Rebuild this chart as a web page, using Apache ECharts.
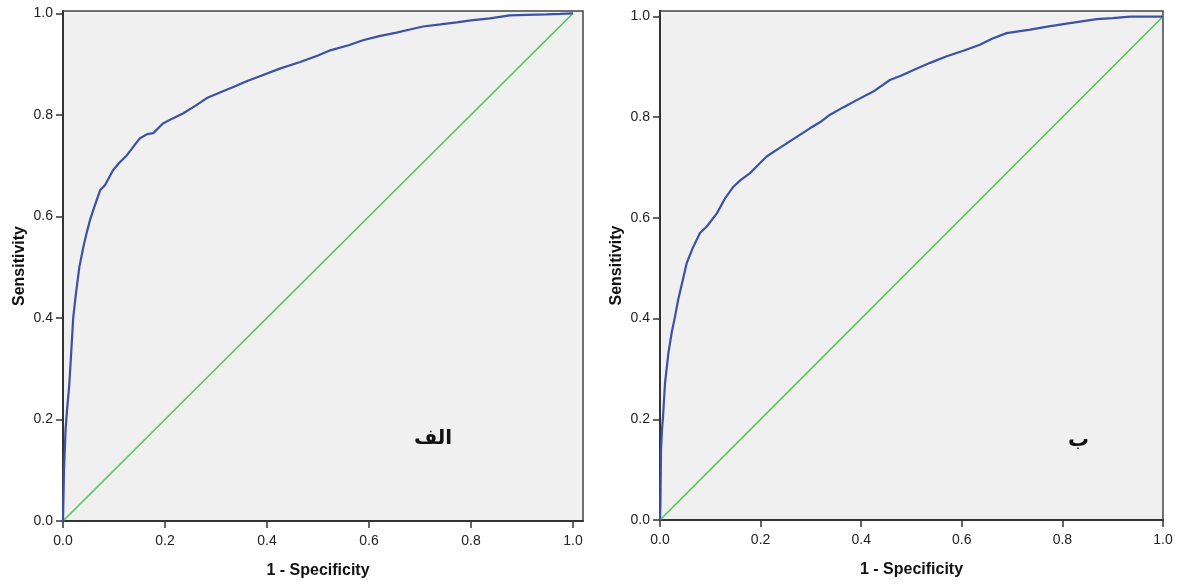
<!DOCTYPE html>
<html>
<head>
<meta charset="utf-8">
<script src="https://cdn.jsdelivr.net/npm/echarts@6/dist/echarts.min.js"></script>
<style>
  html, body { margin: 0; padding: 0; background: #fff; }
  #chart { width: 1177px; height: 588px; }
</style>
</head>
<body>
<div id="chart"></div>
<script>
// ROC curve (panel الف)
var leftFpr = [0, 0.002, 0.005, 0.008, 0.012, 0.016, 0.02, 0.025, 0.032, 0.04,
  0.047, 0.053, 0.062, 0.073, 0.082, 0.098, 0.11, 0.125, 0.14, 0.151,
  0.165, 0.177, 0.196, 0.215, 0.236, 0.26, 0.282, 0.31, 0.334, 0.36,
  0.386, 0.425, 0.465, 0.5, 0.524, 0.56, 0.588, 0.62, 0.654, 0.68,
  0.706, 0.74, 0.772, 0.8, 0.837, 0.876, 0.91, 0.948, 0.975, 1.0];
var leftTpr = [0, 0.1, 0.18, 0.22, 0.264, 0.33, 0.40, 0.445, 0.5, 0.54,
  0.57, 0.593, 0.62, 0.652, 0.661, 0.691, 0.705, 0.72, 0.74, 0.754,
  0.762, 0.764, 0.783, 0.793, 0.803, 0.818, 0.833, 0.845, 0.855, 0.866,
  0.876, 0.891, 0.904, 0.917, 0.927, 0.937, 0.947, 0.955, 0.962, 0.968,
  0.974, 0.978, 0.982, 0.986, 0.99, 0.996, 0.997, 0.998, 0.999, 1.0];

// ROC curve (panel ب)
var rightFpr = [0, 0.001, 0.002, 0.004, 0.006, 0.01, 0.0166, 0.023, 0.03, 0.036,
  0.045, 0.053, 0.065, 0.0795, 0.093, 0.113, 0.13, 0.146, 0.16, 0.179,
  0.195, 0.212, 0.235, 0.258, 0.278, 0.298, 0.318, 0.338, 0.365, 0.391,
  0.424, 0.457, 0.48, 0.504, 0.537, 0.57, 0.603, 0.636, 0.66, 0.689,
  0.736, 0.77, 0.802, 0.835, 0.868, 0.9, 0.934, 0.967, 1.0];
var rightTpr = [0, 0.04, 0.139, 0.18, 0.205, 0.272, 0.331, 0.371, 0.405, 0.437,
  0.475, 0.51, 0.54, 0.57, 0.583, 0.609, 0.64, 0.662, 0.675, 0.689,
  0.705, 0.722, 0.737, 0.752, 0.765, 0.778, 0.79, 0.805, 0.82, 0.834,
  0.851, 0.874, 0.883, 0.894, 0.908, 0.921, 0.932, 0.944, 0.956, 0.967,
  0.974, 0.98, 0.985, 0.99, 0.995, 0.997, 1.0, 1.0, 1.0];

// reference diagonal
var diagX = [0, 1];
var diagY = [0, 1];

var tickVals = [0, 0.2, 0.4, 0.6, 0.8, 1.0];
var panelLabels = ["الف", "ب"];
var xName = "1 - Specificity";
var yName = "Sensitivity";

function pairs(xs, ys) {
  return xs.map(function (x, i) { return [x, ys[i]]; });
}

var axisColor = "#333";
var labelFont = { color: "#222", fontSize: 14, fontFamily: "Liberation Sans" };
var nameFont = { color: "#111", fontSize: 16, fontWeight: "bold", fontFamily: "Liberation Sans" };

function makeX(idx, max, shift) {
  return {
    type: "value", gridIndex: idx, min: 0, max: max,
    name: xName, nameLocation: "middle", nameGap: 42,
    nameTextStyle: Object.assign({ padding: [0, shift, 0, 0] }, nameFont),
    axisLine: { show: true, onZero: false, lineStyle: { color: axisColor, width: 2 } },
    axisTick: { show: true, length: 7, customValues: tickVals, lineStyle: { color: axisColor, width: 1.5 } },
    axisLabel: Object.assign({ customValues: tickVals, margin: 13, formatter: function (v) { return v.toFixed(1); } }, labelFont),
    splitLine: { show: false }
  };
}
function makeY(idx, max) {
  return {
    type: "value", gridIndex: idx, min: 0, max: max,
    name: yName, nameLocation: "middle", nameGap: 35, nameTextStyle: nameFont,
    axisLine: { show: true, onZero: false, lineStyle: { color: axisColor, width: 2 } },
    axisTick: { show: true, length: 7, customValues: tickVals, lineStyle: { color: axisColor, width: 1.5 } },
    axisLabel: Object.assign({ customValues: tickVals, margin: 10, formatter: function (v) { return v.toFixed(1); } }, labelFont),
    splitLine: { show: false }
  };
}

var chart = echarts.init(document.getElementById("chart"));
var option = {
  backgroundColor: "#fff",
  animation: false,
  grid: [
    { left: 63, top: 11, width: 520, height: 510, show: true, backgroundColor: "#f0f0f0", borderColor: "#444", borderWidth: 1.5 },
    { left: 660, top: 11, width: 503, height: 509, show: true, backgroundColor: "#f0f0f0", borderColor: "#444", borderWidth: 1.5 }
  ],
  xAxis: [makeX(0, 1.0196, 10), makeX(1, 1, 0)],
  yAxis: [makeY(0, 1.0045), makeY(1, 1.011)],
  series: [
    { type: "line", xAxisIndex: 0, yAxisIndex: 0, data: pairs(diagX, diagY), showSymbol: false,
      lineStyle: { color: "#55c255", width: 1.6 }, silent: true },
    { type: "line", xAxisIndex: 0, yAxisIndex: 0, data: pairs(leftFpr, leftTpr), showSymbol: false,
      lineStyle: { color: "#3b51a6", width: 2.2 }, silent: true },
    { type: "line", xAxisIndex: 1, yAxisIndex: 1, data: pairs(diagX, diagY), showSymbol: false,
      lineStyle: { color: "#55c255", width: 1.6 }, silent: true },
    { type: "line", xAxisIndex: 1, yAxisIndex: 1, data: pairs(rightFpr, rightTpr), showSymbol: false,
      lineStyle: { color: "#3b51a6", width: 2.2 }, silent: true }
  ],
  graphic: [
    { type: "text", left: 414, top: 429, style: { text: panelLabels[0], fill: "#111", font: "bold 20px 'DejaVu Sans'" } },
    { type: "text", left: 1068, top: 430, style: { text: panelLabels[1], fill: "#111", font: "bold 21px 'DejaVu Sans'" } }
  ]
};
chart.setOption(option);
</script>
</body>
</html>
